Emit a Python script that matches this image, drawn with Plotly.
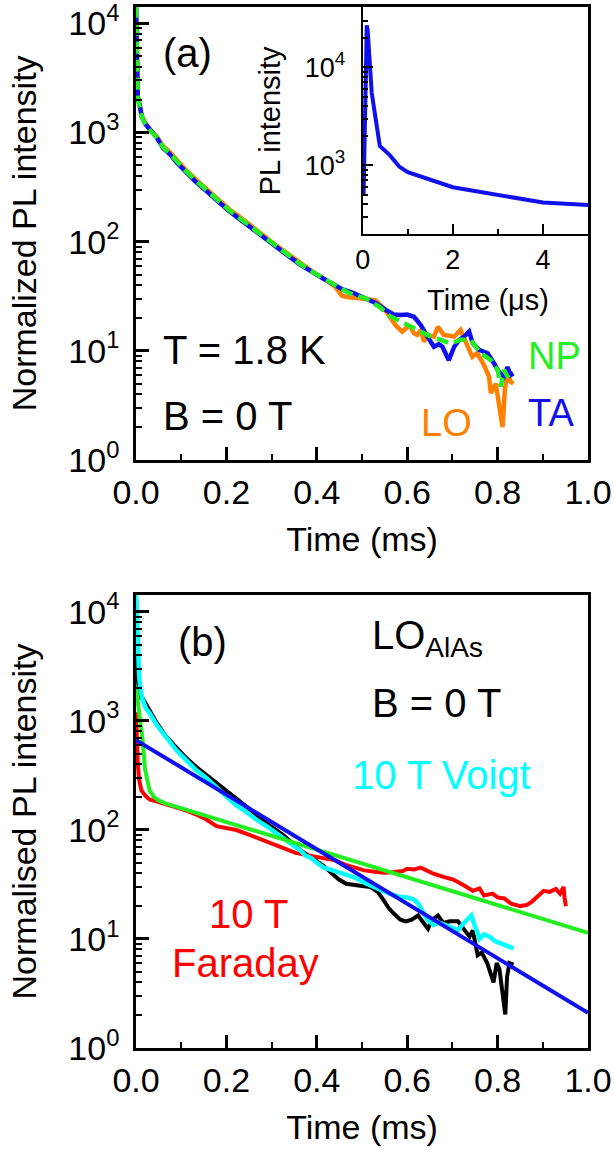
import plotly.graph_objects as go

# ---------------- Panel (a): normalized PL decay, B = 0 T ----------------
ta_t = [0.000, 0.001, 0.002, 0.004, 0.009, 0.013, 0.020, 0.027, 0.035, 0.046, 0.060, 0.075,
        0.090, 0.109, 0.130, 0.152, 0.175, 0.205, 0.230, 0.257, 0.283, 0.309, 0.335, 0.362,
        0.388, 0.414, 0.440, 0.457, 0.480, 0.510, 0.530, 0.554, 0.570, 0.585, 0.600, 0.615,
        0.630, 0.645, 0.659, 0.670, 0.678, 0.692, 0.704, 0.715, 0.726, 0.737, 0.745, 0.759,
        0.778, 0.792, 0.803, 0.814, 0.822, 0.829, 0.835]
ta_v = [14500, 6000, 3000, 2100, 1700, 1390, 1200, 1100, 1000, 900, 720, 630,
        530, 440, 360, 300, 245, 192, 160, 131, 108, 90, 75, 62,
        53, 46, 40, 36.5, 34, 30, 27.5, 23.5, 21.5, 21.3, 21.5, 20.5,
        17.2, 13.5, 10.9, 11.5, 10.9, 8.2, 10.9, 12.6, 13.5, 15, 11.7, 10.2,
        9.5, 7.7, 6.4, 5.8, 7.1, 6.0, 6.2]

lo_t = [0.000, 0.001, 0.002, 0.004, 0.009, 0.013, 0.020, 0.027, 0.035, 0.046, 0.060, 0.075,
        0.090, 0.109, 0.130, 0.152, 0.175, 0.205, 0.230, 0.257, 0.283, 0.309, 0.335, 0.362,
        0.388, 0.414, 0.440, 0.455, 0.470, 0.490, 0.510, 0.530, 0.550, 0.563, 0.575, 0.589,
        0.600, 0.607, 0.615, 0.622, 0.630, 0.637, 0.645, 0.659, 0.668, 0.681, 0.704, 0.718,
        0.733, 0.744, 0.755, 0.770, 0.781, 0.785, 0.796, 0.803, 0.811, 0.816, 0.822, 0.829, 0.835]
lo_v = [14500, 6000, 3000, 2150, 1700, 1420, 1230, 1120, 1020, 920, 750, 660,
        560, 460, 380, 315, 255, 200, 168, 137, 112, 93, 78, 64,
        54, 46, 39, 32, 31, 30.5, 30, 29, 24, 20, 17, 15,
        16.5, 16.6, 14.5, 14, 15.5, 12.1, 14, 13.5, 16.6, 14, 13.5, 15.5,
        10.9, 8.8, 9.5, 7.4, 5.8, 4.1, 5.0, 3.3, 2.0, 4.4, 6.4, 5.2, 5.0]

np_t = [0.000, 0.001, 0.002, 0.004, 0.009, 0.013, 0.020, 0.030, 0.046, 0.060, 0.075, 0.090,
        0.109, 0.130, 0.152, 0.175, 0.205, 0.230, 0.257, 0.283, 0.309, 0.335, 0.362, 0.388,
        0.414, 0.440, 0.470, 0.510, 0.540, 0.560, 0.585, 0.610, 0.630, 0.652, 0.674, 0.696,
        0.718, 0.740, 0.763, 0.785, 0.800, 0.807, 0.814, 0.822, 0.828]
np_v = [14500, 6000, 3000, 2050, 1650, 1380, 1200, 1050, 900, 730, 640, 545,
        450, 370, 305, 250, 196, 163, 134, 110, 91, 76, 63, 53.5,
        46, 39.5, 34, 30, 25, 21, 18.5, 16.5, 15, 13.5, 12.6, 11.7,
        12.6, 12.6, 9.5, 8.2, 6.7, 4.7, 6.7, 5.8, 6.4]

# ---------------- Inset: early-time PL (microseconds) ----------------
inset_t = [0.02, 0.05, 0.07, 0.09, 0.11, 0.16, 0.20, 0.38, 0.60, 0.81, 1.0, 2.0, 3.0, 4.0, 5.0]
inset_v = [500, 4000, 18000, 26800, 24000, 10300, 5500, 1570, 1270, 970, 850, 597, 499, 417, 394]

# ---------------- Panel (b): LO_AlAs line, different fields ----------------
b0_t = [0.000, 0.001, 0.002, 0.004, 0.008, 0.015, 0.030, 0.045, 0.065, 0.089, 0.109, 0.135,
        0.161, 0.190, 0.222, 0.255, 0.292, 0.325, 0.362, 0.390, 0.414, 0.430, 0.449, 0.465,
        0.484, 0.500, 0.519, 0.535, 0.545, 0.560, 0.571, 0.585, 0.597, 0.610, 0.624, 0.635,
        0.646, 0.655, 0.668, 0.680, 0.694, 0.712, 0.725, 0.738, 0.745, 0.756, 0.765, 0.777,
        0.791, 0.798, 0.804, 0.812, 0.817, 0.821, 0.826, 0.835]
b0_v = [14500, 8000, 4000, 2400, 1650, 1600, 1250, 970, 730, 570, 465, 372,
        308, 250, 194, 150, 112, 90, 66, 55, 47, 41, 35, 32,
        31, 30.5, 29.9, 27, 23.5, 19, 17, 15, 14.5, 15, 16.4, 14,
        12.4, 15, 16.4, 14, 14.5, 14.5, 12.5, 10.5, 12, 7.1, 7.5, 6.0,
        4.0, 6.0, 5.3, 3.2, 2.03, 4.5, 6.0, 5.8]

voigt_t = [0.000, 0.002, 0.004, 0.007, 0.010, 0.015, 0.022, 0.030, 0.047, 0.059, 0.075, 0.089,
           0.110, 0.133, 0.155, 0.177, 0.200, 0.220, 0.240, 0.265, 0.292, 0.320, 0.344, 0.365,
           0.375, 0.388, 0.400, 0.415, 0.432, 0.460, 0.484, 0.510, 0.536, 0.560, 0.580, 0.600,
           0.615, 0.625, 0.632, 0.645, 0.658, 0.672, 0.685, 0.700, 0.712, 0.722, 0.729, 0.742,
           0.750, 0.760, 0.770, 0.782, 0.795, 0.808, 0.818, 0.826, 0.835]
voigt_v = [14500, 7000, 4000, 2530, 1900, 1550, 1300, 1175, 900, 771, 640, 539,
           440, 353, 300, 248, 201, 170, 150, 125, 106, 88, 75, 64,
           58, 55, 50, 45, 43, 39, 36.5, 32, 28.7, 26, 24.5, 24,
           23, 21, 18.5, 15, 13.4, 14, 13.4, 12.5, 12, 13.5, 14.5, 16.4,
           13, 10, 11, 10.5, 9.5, 9, 8.6, 8.4, 8.2]

faraday_t = [0.000, 0.002, 0.004, 0.007, 0.012, 0.021, 0.030, 0.047, 0.070, 0.091, 0.112, 0.135,
             0.155, 0.178, 0.200, 0.222, 0.245, 0.266, 0.290, 0.310, 0.330, 0.353, 0.375, 0.397,
             0.420, 0.441, 0.462, 0.484, 0.505, 0.528, 0.550, 0.571, 0.590, 0.600, 0.615, 0.630,
             0.645, 0.658, 0.680, 0.702, 0.725, 0.745, 0.760, 0.770, 0.789, 0.800, 0.815, 0.830,
             0.850, 0.865, 0.876, 0.890, 0.902, 0.915, 0.929, 0.938, 0.946, 0.948, 0.951]
faraday_v = [1200, 600, 400, 286, 230, 205, 190, 182, 170, 161, 150, 137,
             125, 108, 104, 99.6, 92, 84.8, 78, 72.3, 66, 61.5, 59, 56.8,
             54.5, 52.5, 48, 44.7, 42.5, 41.2, 40.5, 41, 42, 44, 43.3, 45,
             42, 39.6, 37, 35, 31, 27.6, 29, 25, 26, 24, 23.5, 21,
             20, 20.5, 22, 25, 27.6, 27, 28.7, 26, 30, 24, 20]

# fit curves
fit_bi_t = [0.000, 0.005, 0.010, 0.015, 0.020, 0.025, 0.030, 0.040, 0.050, 0.065, 0.200, 0.400, 0.600, 0.800, 1.000]
fit_bi_v = [2050, 1450, 1000, 640, 360, 270, 230, 200, 186, 175, 118, 65.8, 36.7, 20.5, 11.4]
fit_mono_t = [0.0, 0.5, 1.0]
fit_mono_v = [665, 37.4, 2.1]

# tick labels
log_tickvals = [1, 10, 100, 1000, 10000]
log_ticktext = ["10<sup>0</sup>", "10<sup>1</sup>", "10<sup>2</sup>", "10<sup>3</sup>", "10<sup>4</sup>"]
inset_tickvals = [1000, 10000]
inset_ticktext = ["10<sup>3</sup>", "10<sup>4</sup>"]
log_minor = [m * 10 ** k for k in range(0, 5) for m in range(2, 10)]

C_BLUE = "#1010ee"
C_GREEN = "#22ee22"
C_ORANGE = "#ff8000"
C_CYAN = "#00ffff"
C_RED = "#ff0000"
FONT = "Liberation Sans, Arial, sans-serif"

W, H = 614, 1157
def fx(px):
    return px / W
def fy(py):
    return 1 - py / H

fig = go.Figure()

# panel (a)
fig.add_trace(go.Scatter(x=lo_t, y=lo_v, mode="lines", line=dict(color=C_ORANGE, width=4.5),
                         xaxis="x", yaxis="y", name="LO"))
fig.add_trace(go.Scatter(x=ta_t, y=ta_v, mode="lines", line=dict(color=C_BLUE, width=4.5),
                         xaxis="x", yaxis="y", name="TA"))
fig.add_trace(go.Scatter(x=np_t, y=np_v, mode="lines",
                         line=dict(color=C_GREEN, width=4.5, dash="12px,6px"),
                         xaxis="x", yaxis="y", name="NP"))
# inset
fig.add_trace(go.Scatter(x=inset_t, y=inset_v, mode="lines", line=dict(color=C_BLUE, width=4),
                         xaxis="x3", yaxis="y3", name="inset"))
# panel (b)
fig.add_trace(go.Scatter(x=b0_t, y=b0_v, mode="lines", line=dict(color="black", width=4),
                         xaxis="x2", yaxis="y2", name="0 T"))
fig.add_trace(go.Scatter(x=faraday_t, y=faraday_v, mode="lines", line=dict(color=C_RED, width=4),
                         xaxis="x2", yaxis="y2", name="10 T Faraday"))
fig.add_trace(go.Scatter(x=voigt_t, y=voigt_v, mode="lines", line=dict(color=C_CYAN, width=4.5),
                         xaxis="x2", yaxis="y2", name="10 T Voigt"))
fig.add_trace(go.Scatter(x=fit_bi_t, y=fit_bi_v, mode="lines", line=dict(color=C_GREEN, width=4),
                         xaxis="x2", yaxis="y2", name="biexp fit"))
fig.add_trace(go.Scatter(x=fit_mono_t, y=fit_mono_v, mode="lines", line=dict(color=C_BLUE, width=4),
                         xaxis="x2", yaxis="y2", name="mono fit"))

dom_x = [fx(136), fx(588)]
common = dict(showline=True, linecolor="black", linewidth=2.5, mirror=True,
              ticks="inside", ticklen=13, tickwidth=2.5, tickcolor="black",
              showgrid=False, zeroline=False, automargin=False,
              ticklabeloverflow="allow",
              tickfont=dict(family=FONT, size=34, color="black"))

def xmain(dom_y_anchor):
    return dict(common, domain=dom_x, anchor=dom_y_anchor, range=[0, 1.0], tickmode="linear",
                tick0=0, dtick=0.2, tickformat=".1f",
                minor=dict(dtick=0.1, ticks="inside", ticklen=6, tickwidth=2, tickcolor="black",
                           showgrid=False),
                title=dict(text="Time (ms)", font=dict(family=FONT, size=34, color="black"),
                           standoff=18))

def ymain(domain, anchor, title, top):
    return dict(common, domain=domain, anchor=anchor, type="log", range=[0, top],
                tickmode="array", tickvals=log_tickvals, ticktext=log_ticktext,
                ticklabelstandoff=7,
                minor=dict(tickmode="array", tickvals=log_minor, ticks="inside", ticklen=6,
                           tickwidth=2, tickcolor="black", showgrid=False),
                title=dict(text=title, font=dict(family=FONT, size=34, color="black"),
                           standoff=22))

fig.update_layout(
    width=W, height=H, margin=dict(l=0, r=0, t=0, b=0),
    paper_bgcolor="white", plot_bgcolor="white", showlegend=False,
    font=dict(family=FONT, color="black"),
    xaxis=xmain("y"),
    yaxis=ymain([fy(460), fy(6.7)], "x", "Normalized PL intensity", 4.152),
    xaxis2=xmain("y2"),
    yaxis2=ymain([fy(1048), fy(595)], "x2", "Normalised PL intensity", 4.153),
    xaxis3=dict(common, domain=[fx(362.7), fx(588)], anchor="y3", range=[0, 5],
                tickmode="linear", tick0=0, dtick=2, ticklen=10, tickwidth=1.5, linewidth=2,
                tickfont=dict(family=FONT, size=27, color="black"),
                minor=dict(dtick=1, ticks="inside", ticklen=5, tickwidth=1.5, tickcolor="black",
                           showgrid=False)),
    yaxis3=dict(common, domain=[fy(234.3), fy(7.3)], anchor="x3", type="log",
                range=[2.296, 4.612], tickmode="array", tickvals=inset_tickvals,
                ticktext=inset_ticktext, ticklen=10, tickwidth=1.5, linewidth=2,
                ticklabelstandoff=10,
                tickfont=dict(family=FONT, size=27, color="black"),
                minor=dict(tickmode="array", tickvals=log_minor + [20000, 30000, 40000],
                           ticks="inside", ticklen=5, tickwidth=1.5, tickcolor="black",
                           showgrid=False),
                title=dict(text="PL intensity", font=dict(family=FONT, size=29, color="black"),
                           standoff=16)),
)

def note(text, x, y, xref, yref, color="black", size=40, xanchor="left"):
    fig.add_annotation(text=text, x=x, y=y, xref=xref, yref=yref, showarrow=False,
                       xanchor=xanchor, yanchor="middle",
                       font=dict(family=FONT, size=size, color=color))

# inset x-axis title (sits slightly right of the inset axis centre in the original)
note("Time (\u03bcs)", fx(488), fy(300), "paper", "paper", size=29, xanchor="center")

# panel (a) labels (x in ms, y in log10 units)
note("(a)", 0.056, 3.73, "x", "y")
note("T = 1.8 K", 0.056, 1.01, "x", "y")
note("B = 0 T", 0.056, 0.40, "x", "y")
note("NP", 0.862, 0.95, "x", "y", color=C_GREEN, size=38)
note("TA", 0.862, 0.43, "x", "y", color=C_BLUE, size=38)
note("LO", 0.626, 0.34, "x", "y", color=C_ORANGE, size=38)

# panel (b) labels
note("(b)", 0.088, 3.72, "x2", "y2")
note("LO<sub>AlAs</sub>", 0.518, 3.76, "x2", "y2")
note("B = 0 T", 0.518, 3.16, "x2", "y2")
note("10 T Voigt", 0.474, 2.50, "x2", "y2", color=C_CYAN)
note("10 T", 0.158, 1.23, "x2", "y2", color=C_RED)
note("Faraday", 0.076, 0.78, "x2", "y2", color=C_RED)

# remove the default 8px page margin so the 614x1157 figure fills the window exactly
fig.write_html("out.html", config={"displayModeBar": False},
               post_script="document.body.style.margin='0px';")
